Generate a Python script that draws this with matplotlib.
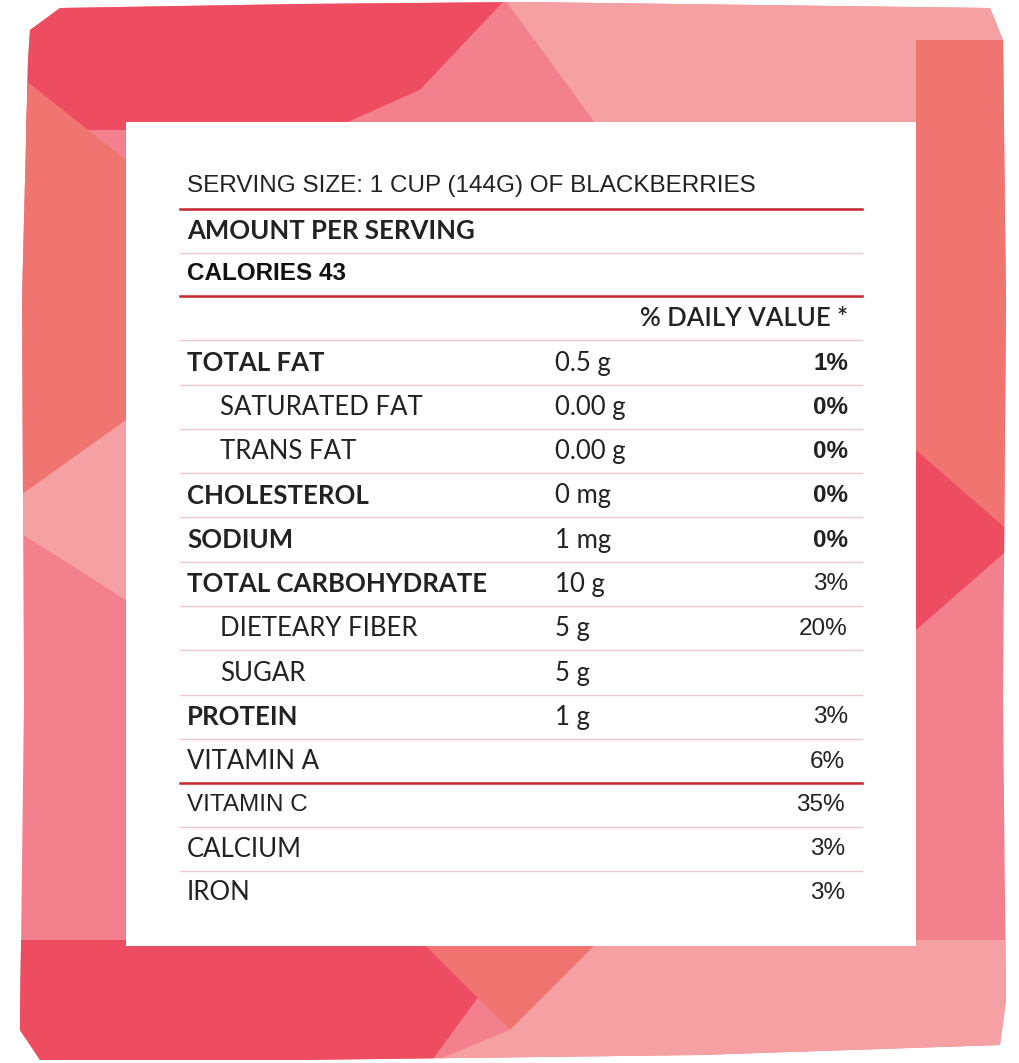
import matplotlib
matplotlib.use("Agg")
import matplotlib.pyplot as plt
from matplotlib.patches import Polygon, Rectangle

serving = "SERVING SIZE: 1 CUP (144G) OF BLACKBERRIES"
nutrients = ["TOTAL FAT", "SATURATED FAT", "TRANS FAT", "CHOLESTEROL", "SODIUM",
             "TOTAL CARBOHYDRATE", "DIETEARY FIBER", "SUGAR", "PROTEIN"]
bold = [True, False, False, True, True, True, False, False, True]
indent = [False, True, True, False, False, False, True, True, False]
amounts = ["0.5 g", "0.00 g", "0.00 g", "0 mg", "1 mg", "10 g", "5 g", "5 g", "1 g"]
daily = ["1%", "0%", "0%", "0%", "0%", "3%", "20%", "", "3%"]
vitamins = ["VITAMIN A", "VITAMIN C", "CALCIUM", "IRON"]
vit_pct = ["6%", "35%", "3%", "3%"]

W, H = 1019, 1063
fig = plt.figure(figsize=(W/100, H/100), dpi=100)
ax = fig.add_axes([0, 0, 1, 1])
ax.set_xlim(0, W); ax.set_ylim(H, 0); ax.axis("off")

DR, LP, SA, PK = "#EE4C60", "#F5A1A4", "#F07570", "#F3818D"
outline = [(30, 30), (60, 8), (300, 4), (520, 2), (990, 8), (1003, 40), (1006, 300),
           (1003, 700), (1006, 1000), (1000, 1045), (700, 1055), (300, 1060), (40, 1060),
           (20, 1030), (24, 700), (22, 300), (28, 60)]
clip = Polygon(outline, closed=True, facecolor="none", edgecolor="none")
ax.add_patch(clip)
polys = [
    (PK, [(0, 0), (W, 0), (W, H), (0, H)]),
    (DR, [(0, 0), (505, 0), (420, 90), (330, 130), (0, 130)]),
    (LP, [(505, 0), (W, 0), (W, 130), (600, 130)]),
    (PK, [(420, 90), (505, 0), (600, 130), (330, 130)]),
    (SA, [(0, 60), (126, 160), (126, 420), (0, 510)]),
    (LP, [(0, 510), (126, 420), (126, 600), (0, 520)]),
    (SA, [(916, 40), (1019, 40), (1019, 540), (916, 450)]),
    (DR, [(916, 450), (1019, 540), (916, 630)]),
    (DR, [(0, 940), (520, 940), (430, 1063), (0, 1063)]),
    (SA, [(420, 940), (600, 940), (510, 1030)]),
    (LP, [(520, 940), (W, 940), (W, 1063), (430, 1063), (510, 1030), (600, 940)]),
    (DR, [(0, 950), (126, 940), (0, 1063)]),
]
for c, pts in polys:
    p = Polygon(pts, closed=True, facecolor=c, edgecolor="none")
    ax.add_patch(p); p.set_clip_path(clip)

ax.add_patch(Rectangle((126, 122), 790, 824, facecolor="white", edgecolor="none"))

RED, THIN = "#C8242B", "#F0C8C8"
def hline(y, red=False):
    ax.plot([180, 862], [y, y], color=RED if red else THIN, lw=1.8 if red else 1.0)

LATO, ARIAL = "Lato", "Liberation Sans"
LS, AS = 18.5, 17.5
ax.text(187, 186, serving, fontfamily=ARIAL, fontsize=AS, color="#222", va="center")
hline(209, True)
ax.text(187, 231, "AMOUNT PER SERVING", fontfamily=LATO, fontsize=LS, fontweight="bold", color="#222", va="center")
hline(253)
ax.text(187, 273, "CALORIES 43", fontfamily=ARIAL, fontsize=AS, fontweight="bold", color="#111", va="center")
hline(296, True)
ax.text(848, 319, "% DAILY VALUE *", fontfamily=LATO, fontsize=LS, fontweight="semibold", color="#222", va="center", ha="right")
hline(340)

y = 363
for i, n in enumerate(nutrients):
    ax.text(220 if indent[i] else 187, y, n, fontfamily=LATO, fontsize=LS,
            fontweight="bold" if bold[i] else "normal", color="#222", va="center")
    ax.text(555, y, amounts[i], fontfamily=LATO, fontsize=LS, color="#222", va="center")
    ax.text(848, y, daily[i], fontfamily=ARIAL, fontsize=AS,
            fontweight="bold" if daily[i] in ("1%", "0%") else "normal", color="#222", va="center", ha="right")
    hline(y + 21.5)
    y += 44.3
for i, v in enumerate(vitamins):
    ax.text(187, y, v, fontfamily=LATO if i != 1 else ARIAL, fontsize=LS if i != 1 else AS,
            color="#222", va="center")
    ax.text(845, y, vit_pct[i], fontfamily=ARIAL, fontsize=AS, color="#222", va="center", ha="right")
    if i < 3:
        hline(y + 21.5, red=(i == 0))
    y += 43.7

fig.savefig("out.png", dpi=100)
